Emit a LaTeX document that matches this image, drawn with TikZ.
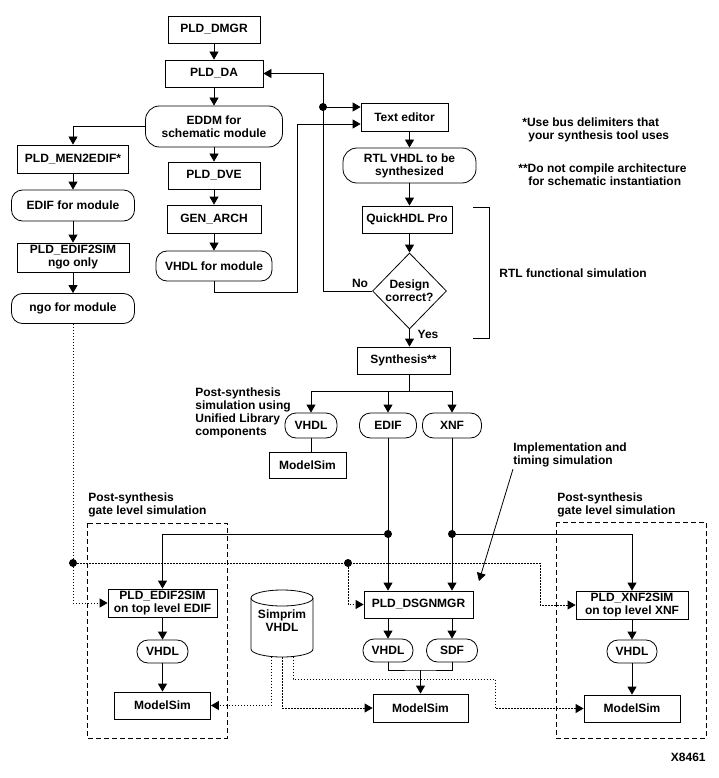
\documentclass[tikz,border=0pt]{standalone}
\usepackage{fontspec}
\setmainfont{Liberation Sans}
\usetikzlibrary{arrows.meta,shapes.geometric,calc}
\tikzset{
  every node/.style={font=\bfseries\fontsize{12}{13}\selectfont},
  box/.style={draw, rectangle, inner sep=0pt, align=center},
  pill/.style={draw, rounded corners=11pt, inner sep=0pt, align=center},
  bigpill/.style={draw, rounded corners=14pt, inner sep=0pt, align=center},
  arr/.style={-{Triangle[length=8pt,width=9pt]}},
  dotline/.style={dash pattern=on 1.5pt off 1.5pt},
  frame/.style={dash pattern=on 5pt off 3pt},
  lbl/.style={align=left, inner sep=0pt, anchor=north west},
  dot/.style={circle, fill, inner sep=0pt, minimum size=8pt},
}
\begin{document}
\begin{tikzpicture}[x=1pt,y=-1pt,line width=0.8pt]
\useasboundingbox (0,0) rectangle (719,778);

% centre column
\node[box, minimum width=92pt, minimum height=27pt] (dmgr) at (214,29.5) {PLD\_DMGR};
\node[box, minimum width=98pt, minimum height=27pt] (da) at (214,73.5) {PLD\_DA};
\node[bigpill, minimum width=137pt, minimum height=41pt] (eddm) at (214,126.5) {EDDM for\\schematic module};
\node[box, minimum width=92pt, minimum height=27pt] (dve) at (214,175.5) {PLD\_DVE};
\node[box, minimum width=94pt, minimum height=28pt] (gen) at (214,219) {GEN\_ARCH};
\node[pill, minimum width=116pt, minimum height=30pt] (vhdlmod) at (214,266) {VHDL for module};

% left column
\node[box, minimum width=111pt, minimum height=28pt] (men) at (73,159) {PLD\_MEN2EDIF*};
\node[pill, minimum width=123pt, minimum height=31pt] (edifmod) at (73,205.5) {EDIF for module};
\node[box, minimum width=112pt, minimum height=29pt] (ngo) at (73,257.5) {PLD\_EDIF2SIM\\ngo only};
\node[pill, minimum width=123pt, minimum height=30pt] (ngomod) at (73,308.5) {ngo for module};

% right column
\node[box, minimum width=87pt, minimum height=28pt] (texted) at (404.5,117) {Text editor};
\node[bigpill, minimum width=133pt, minimum height=35pt] (rtl) at (409.5,165.5) {RTL VHDL to be\\synthesized};
\node[box, minimum width=90pt, minimum height=27pt] (qhdl) at (407,219.5) {QuickHDL Pro};
\node[draw, diamond, aspect=1, inner sep=0pt, minimum width=74pt, minimum height=76pt, align=center] (design) at (409.5,291) {Design\\correct?};
\node (no) at (360,283) {No};
\node (yes) at (428,334) {Yes};
\node[box, minimum width=93pt, minimum height=27pt] (synth) at (403.5,360.5) {Synthesis**};

% notes
\node[lbl] (note1) at (522,117.5) {*Use bus delimiters that\\\hspace*{6pt}your synthesis tool uses};
\node[lbl] (note2) at (518,163.5) {**Do not compile architecture\\\hspace*{10pt}for schematic instantiation};
\node[anchor=west, inner sep=0pt] (rtlsim) at (499,273) {RTL functional simulation};
\draw (473,207) -- (489,207) -- (489,338) -- (473,338);

% synthesis outputs
\node[pill, minimum width=52pt, minimum height=25pt] (vhdlU) at (311,425.5) {VHDL};
\node[pill, minimum width=57pt, minimum height=25pt] (edifU) at (388,425.5) {EDIF};
\node[pill, minimum width=59pt, minimum height=25pt] (xnfU) at (452,425.5) {XNF};
\node[box, minimum width=77pt, minimum height=26pt] (msU) at (307.5,465) {ModelSim};
\node[lbl] (postU) at (195,387.5) {Post-synthesis\\simulation using\\Unified Library\\components};
\node[lbl] (impl) at (513,442.5) {Implementation and\\timing simulation};

% frames
\draw[frame] (87,523) rectangle (227,738);
\draw[frame] (556,522) rectangle (706,738);
\node[lbl] (postL) at (88,492.5) {Post-synthesis\\gate level simulation};
\node[lbl] (postR) at (557,492.5) {Post-synthesis\\gate level simulation};

% bottom row
\node[box, minimum width=109pt, minimum height=28pt] (e2s) at (162.5,603) {PLD\_EDIF2SIM\\on top level EDIF};
\node[pill, minimum width=51pt, minimum height=23pt] (vhdlL) at (162.5,651.5) {VHDL};
\node[box, minimum width=96pt, minimum height=27pt] (msL) at (162.5,705.5) {ModelSim};

\node[box, minimum width=109pt, minimum height=27pt] (dsgn) at (418.5,604.5) {PLD\_DSGNMGR};
\node[pill, minimum width=50pt, minimum height=23pt] (vhdlM) at (388,650.5) {VHDL};
\node[pill, minimum width=51pt, minimum height=23pt] (sdf) at (452,650.5) {SDF};
\node[box, minimum width=95pt, minimum height=28pt] (msM) at (420.5,708) {ModelSim};

\node[box, minimum width=112pt, minimum height=28pt] (x2s) at (632,605) {PLD\_XNF2SIM\\on top level XNF};
\node[pill, minimum width=50pt, minimum height=23pt] (vhdlR) at (632,651.5) {VHDL};
\node[box, minimum width=96pt, minimum height=27pt] (msR) at (632,708.5) {ModelSim};

% simprim cylinder
\draw (251,598) -- (251,649) arc (180:0:31 and 8) -- (313,598);
\draw (282,598) ellipse (31 and 8);
\node[align=center, inner sep=0pt] (simprim) at (282,621) {Simprim\\VHDL};
\coordinate (s1) at (271,656.5);
\coordinate (s2) at (282,657);
\coordinate (s3) at (293,656.5);

\node[anchor=east, inner sep=0pt] (xnum) at (706,757) {X8461};

% ---- connectors ----
\draw[arr] (dmgr) -- (da);
\draw[arr] (da) -- (eddm);
\draw[arr] (eddm) -- (dve);
\draw[arr] (dve) -- (gen);
\draw[arr] (gen) -- (vhdlmod);
\draw[arr] (eddm.west) -| (men.north);
\draw[arr] (men) -- (edifmod);
\draw[arr] (edifmod) -- (ngo);
\draw[arr] (ngo) -- (ngomod);

\coordinate (j1) at (297,292);
\draw[arr] (vhdlmod.south) |- (j1) |- ($(texted.west)+(0,7)$);
\coordinate (j2) at (323,73.5);
\draw[arr] (design.west) -| (j2) -- (da.east);
\node[dot] (j3) at (323,107) {};
\draw[arr] (j3) -- (j3 -| texted.west);

\draw[arr] (rtl.north |- texted.south) -- (rtl.north);
\draw[arr] (rtl.south) -- (rtl.south |- qhdl.north);
\draw[arr] (design.north |- qhdl.south) -- (design.north);
\draw[arr] (design.south) -- (design.south |- synth.north);

\coordinate (b) at (409.5,391);
\draw (b |- synth.south) -- (b);
\draw[arr] (b) -| (vhdlU.north);
\draw[arr] (b) -| (xnfU.north);
\draw[arr] (edifU.north |- b) -- (edifU.north);
\draw (vhdlU.south) -- (vhdlU.south |- msU.north);

\node[dot] (d1) at (388,534) {};
\node[dot] (d2) at (452,534) {};
\draw[arr] (edifU.south) -- (edifU.south |- dsgn.north);
\draw[arr] (xnfU.south) -- (xnfU.south |- dsgn.north);
\draw[arr] (d1) -| (e2s.north);
\draw[arr] (d2) -| (x2s.north);

\draw[arr] (vhdlM.north |- dsgn.south) -- (vhdlM.north);
\draw[arr] (sdf.north |- dsgn.south) -- (sdf.north);
\coordinate (m) at (420.5,670);
\draw (vhdlM.south) |- (m) -| (sdf.south);
\draw[arr] (m) -- (msM.north);

\draw[arr] (e2s) -- (vhdlL);
\draw[arr] (vhdlL) -- (msL);
\draw[arr] (x2s) -- (vhdlR);
\draw[arr] (vhdlR) -- (msR);

% dotted
\node[dot] (d3) at (73,563) {};
\node[dot] (d4) at (348,563) {};
\coordinate (j5) at (540,563);
\draw[dotline, arr] (ngomod.south) |- (e2s.west);
\draw[dotline, arr] (d3) -- (j5) |- (x2s.west);
\draw[dotline, arr] (d4) |- (dsgn.west);
\draw[dotline, arr] (s1) |- (msL.east);
\draw[dotline, arr] (s2) |- (msM.west);
\coordinate (j6) at (495,679);
\draw[dotline, arr] (s3) |- (j6) |- (msR.west);

% implementation arrow
\coordinate (ia) at (513,469);
\coordinate (ib) at (479,581);
\draw[arr] (ia) -- (ib);
\end{tikzpicture}
\end{document}
